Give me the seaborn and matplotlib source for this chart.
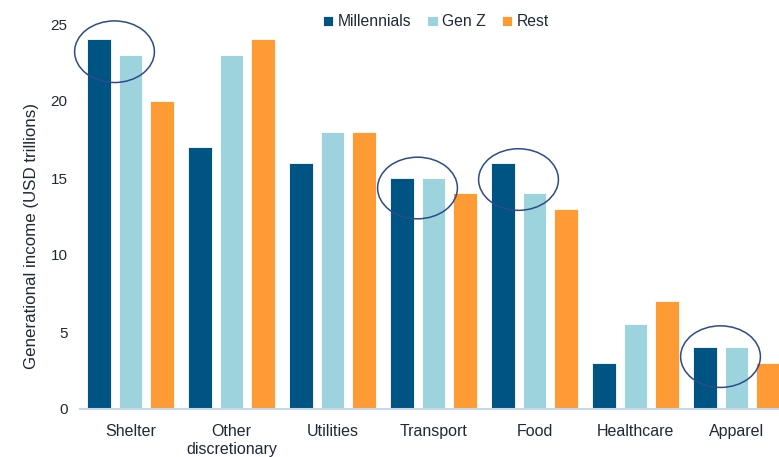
import matplotlib
matplotlib.use("Agg")
import matplotlib.pyplot as plt
from matplotlib.patches import Ellipse
import seaborn as sns
import pandas as pd

categories = ["Shelter", "Other\ndiscretionary", "Utilities", "Transport",
              "Food", "Healthcare", "Apparel"]
millennials = [24, 17, 16, 15, 16, 3, 4]
gen_z = [23, 23, 18, 15, 14, 5.5, 4]
rest = [20, 24, 18, 14, 13, 7, 3]
series_names = ["Millennials", "Gen Z", "Rest"]
y_ticks = [0, 5, 10, 15, 20, 25]

# Highlighted categories: (category, vertical centre of the ring)
highlights = [("Shelter", 23.2), ("Transport", 14.35), ("Food", 14.9), ("Apparel", 3.4)]

colors = ["#005483", "#9DD3DC", "#FF9B35"]
text_color = "#1F2937"

df = pd.DataFrame({
    "category": categories * 3,
    "series": [s for s in series_names for _ in categories],
    "value": millennials + gen_z + rest,
})

sns.set_theme(style="white")
plt.rcParams["font.family"] = ["Liberation Sans", "DejaVu Sans"]

fig = plt.figure(figsize=(7.79, 4.57), dpi=100)
ax = fig.add_axes([80 / 779, 48 / 457, 707 / 779, 385 / 457])

sns.barplot(data=df, x="category", y="value", hue="series", order=categories,
            hue_order=series_names, palette=colors, width=0.95, gap=0.25,
            edgecolor="white", linewidth=0.6, saturation=1, ax=ax, legend=True)

ax.set_xlim(-0.5, len(categories) - 0.5)
ax.set_ylim(0, 25)
ax.set_yticks(y_ticks)
ax.set_yticklabels([str(t) for t in y_ticks])
ax.set_xlabel("")
ax.set_ylabel("Generational income (USD trillions)", fontsize=12.2,
              color=text_color)
ax.yaxis.set_label_coords(-0.058, 0.449)
ax.tick_params(axis="y", length=0, pad=9, labelsize=11, labelcolor=text_color)
ax.tick_params(axis="x", length=0, pad=11, labelsize=11.5, labelcolor=text_color)

for side in ["top", "right", "left"]:
    ax.spines[side].set_visible(False)
ax.spines["bottom"].set_color("#C9D7EA")
ax.spines["bottom"].set_linewidth(1.5)

# Rings around the Millennials / Gen Z pair
slot = 0.95 / 3
for cat, yc in highlights:
    xc = categories.index(cat) - slot / 2
    ax.add_patch(Ellipse((xc, yc), width=0.79, height=4.0, fill=False,
                         edgecolor="#2D4A8C", linewidth=1.1, zorder=5,
                         clip_on=False))

handles, labels = ax.get_legend_handles_labels()
ax.get_legend().remove()
fig.legend(handles, labels, loc="center", bbox_to_anchor=(436 / 779, 1 - 22 / 457),
           ncol=3, frameon=False, fontsize=11.3, handlelength=0.65,
           handleheight=0.65, handletextpad=0.3, columnspacing=1.0,
           labelcolor=text_color, borderaxespad=0)

fig.savefig("out.png", dpi=100)
